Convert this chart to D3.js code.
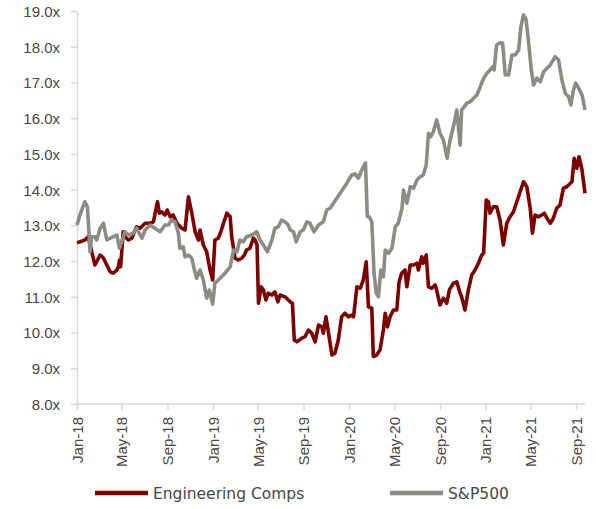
<!DOCTYPE html>
<html>
<head>
<meta charset="utf-8">
<script src="https://cdn.jsdelivr.net/npm/d3@7"></script>
<style>
  body { margin: 0; background: #fff; }
  svg { display: block; font-family: "DejaVu Sans", sans-serif; }
  .axis path, .axis line { stroke: #d9d9d9; stroke-width: 1.5; }
  .axis text { fill: #474747; font-size: 15px; }
  .legend text { fill: #474747; font-size: 15.5px; }
</style>
</head>
<body>
<svg id="chart" width="596" height="509"></svg>
<script>
// Engineering Comps (P/E multiple)
const engDates = ["2018-01-01","2018-01-22","2018-01-31","2018-02-18","2018-03-04","2018-03-12","2018-03-31","2018-04-08","2018-04-18","2018-04-22","2018-04-25","2018-04-28","2018-05-05","2018-05-10","2018-05-19","2018-05-28","2018-06-06","2018-06-10","2018-06-19","2018-07-03","2018-07-16","2018-07-25","2018-08-05","2018-08-10","2018-08-16","2018-08-25","2018-08-31","2018-09-08","2018-09-16","2018-09-26","2018-10-09","2018-10-18","2018-10-27","2018-11-05","2018-11-14","2018-11-23","2018-11-27","2018-12-06","2018-12-15","2018-12-24","2018-12-31","2019-01-06","2019-01-15","2019-01-22","2019-01-29","2019-02-07","2019-02-16","2019-02-20","2019-03-01","2019-03-10","2019-03-19","2019-03-26","2019-04-01","2019-04-10","2019-04-19","2019-04-24","2019-04-29","2019-05-03","2019-05-10","2019-05-16","2019-05-23","2019-05-29","2019-06-08","2019-06-16","2019-06-24","2019-06-30","2019-07-13","2019-07-27","2019-08-02","2019-08-07","2019-08-14","2019-08-27","2019-09-05","2019-09-14","2019-09-23","2019-10-02","2019-10-11","2019-10-20","2019-10-24","2019-10-31","2019-11-07","2019-11-16","2019-11-24","2019-12-03","2019-12-12","2019-12-21","2019-12-30","2020-01-08","2020-01-13","2020-01-22","2020-01-31","2020-02-08","2020-02-16","2020-02-22","2020-03-02","2020-03-06","2020-03-15","2020-03-24","2020-04-02","2020-04-07","2020-04-13","2020-04-20","2020-04-29","2020-05-08","2020-05-14","2020-05-21","2020-05-30","2020-06-04","2020-06-13","2020-06-22","2020-07-01","2020-07-05","2020-07-14","2020-07-18","2020-07-26","2020-08-01","2020-08-10","2020-08-19","2020-08-23","2020-09-01","2020-09-10","2020-09-19","2020-09-26","2020-10-07","2020-10-16","2020-10-25","2020-10-29","2020-11-07","2020-11-16","2020-11-25","2020-12-04","2020-12-13","2020-12-22","2020-12-27","2021-01-03","2021-01-09","2021-01-13","2021-01-22","2021-01-31","2021-02-09","2021-02-18","2021-02-27","2021-03-08","2021-03-17","2021-03-26","2021-04-04","2021-04-13","2021-04-22","2021-05-01","2021-05-07","2021-05-14","2021-05-23","2021-06-01","2021-06-08","2021-06-15","2021-06-24","2021-07-02","2021-07-11","2021-07-20","2021-07-29","2021-08-07","2021-08-21","2021-08-27","2021-09-03","2021-09-09","2021-09-17","2021-09-25"];
const engValues = [12.51,12.59,12.68,11.89,12.17,12.10,11.70,11.66,11.75,11.84,12.03,11.84,12.82,12.68,12.59,12.64,12.87,12.96,12.92,13.06,13.06,13.10,13.66,13.34,13.38,13.29,13.43,13.24,13.29,13.06,12.92,12.87,13.80,13.34,12.82,12.59,12.87,12.45,12.26,11.75,11.47,12.59,12.64,12.82,13.06,13.34,13.24,12.68,12.08,12.03,12.08,12.17,12.31,12.36,12.64,12.59,12.45,10.82,11.28,11.19,10.91,11.10,11.05,11.14,10.86,11.05,11.00,10.86,10.82,9.79,9.74,9.84,9.89,10.07,9.98,9.74,10.21,10.16,9.98,10.44,9.98,9.37,9.42,9.79,10.44,10.54,10.44,10.49,10.44,11.28,11.24,11.47,11.98,10.72,10.68,9.33,9.37,9.51,10.07,10.54,10.16,10.44,10.63,10.63,11.40,11.66,11.75,11.28,11.89,11.89,11.94,11.75,12.12,11.94,12.17,11.28,11.24,11.33,11.19,10.77,10.96,10.82,11.19,11.38,11.42,11.10,11.00,10.63,11.19,11.61,11.75,11.94,12.17,12.22,13.71,13.66,13.34,13.52,13.52,13.15,12.45,13.06,13.24,13.38,13.66,13.94,14.22,14.08,13.48,12.78,13.29,13.24,13.29,13.34,13.20,13.06,13.20,13.48,13.57,14.04,14.08,14.22,14.88,14.60,14.92,14.55,13.90];

// S&P500 (P/E multiple)
const spxDates = ["2018-01-01","2018-01-09","2018-01-22","2018-01-29","2018-02-05","2018-02-09","2018-02-18","2018-02-23","2018-03-04","2018-03-13","2018-03-22","2018-03-31","2018-04-08","2018-04-18","2018-04-25","2018-05-01","2018-05-10","2018-05-19","2018-06-01","2018-06-10","2018-06-24","2018-07-03","2018-07-16","2018-07-29","2018-08-12","2018-08-25","2018-09-03","2018-09-12","2018-09-21","2018-09-30","2018-10-04","2018-10-13","2018-10-18","2018-10-27","2018-11-05","2018-11-11","2018-11-18","2018-11-27","2018-12-06","2018-12-15","2018-12-22","2018-12-31","2019-01-06","2019-01-20","2019-02-02","2019-02-16","2019-02-25","2019-03-06","2019-03-14","2019-03-23","2019-04-01","2019-04-15","2019-04-28","2019-05-07","2019-05-16","2019-05-27","2019-06-08","2019-06-16","2019-06-25","2019-07-04","2019-07-13","2019-07-22","2019-07-27","2019-08-05","2019-08-12","2019-08-23","2019-08-31","2019-09-10","2019-09-18","2019-09-29","2019-10-11","2019-10-24","2019-11-02","2019-11-11","2019-11-20","2019-11-29","2019-12-08","2019-12-17","2019-12-26","2020-01-08","2020-01-17","2020-01-26","2020-02-04","2020-02-14","2020-02-19","2020-02-24","2020-03-02","2020-03-08","2020-03-14","2020-03-20","2020-03-26","2020-04-02","2020-04-07","2020-04-16","2020-04-25","2020-05-04","2020-05-12","2020-05-22","2020-05-26","2020-06-04","2020-06-13","2020-06-22","2020-07-01","2020-07-10","2020-07-18","2020-07-26","2020-08-01","2020-08-07","2020-08-14","2020-08-23","2020-09-01","2020-09-10","2020-09-20","2020-09-28","2020-10-07","2020-10-16","2020-10-25","2020-10-29","2020-11-05","2020-11-12","2020-11-21","2020-11-30","2020-12-09","2020-12-18","2020-12-27","2021-01-05","2021-01-13","2021-01-21","2021-01-24","2021-01-31","2021-02-09","2021-02-16","2021-02-23","2021-03-04","2021-03-13","2021-03-22","2021-03-31","2021-04-06","2021-04-13","2021-04-20","2021-04-26","2021-05-04","2021-05-10","2021-05-19","2021-05-28","2021-06-06","2021-06-15","2021-06-24","2021-07-07","2021-07-16","2021-07-25","2021-08-03","2021-08-12","2021-08-18","2021-08-25","2021-08-31","2021-09-08","2021-09-17","2021-09-25"];
const spxValues = [13.01,13.29,13.66,13.52,12.26,12.68,12.68,12.59,12.92,13.06,12.59,12.64,12.68,12.73,12.36,12.54,12.82,12.73,12.78,12.92,12.64,12.87,13.01,12.92,12.82,13.01,13.01,13.15,13.10,12.78,12.36,12.40,12.12,12.17,12.08,11.80,11.52,11.75,11.47,10.96,11.19,10.80,11.38,11.52,11.66,11.84,12.31,12.26,12.59,12.54,12.68,12.73,12.82,12.59,12.45,12.26,12.59,12.92,12.96,13.15,13.10,13.01,12.87,12.82,12.54,12.82,12.87,13.10,13.06,12.82,13.01,13.10,13.43,13.48,13.62,13.76,13.90,14.04,14.18,14.41,14.44,14.32,14.55,14.75,13.24,13.24,13.10,11.66,11.10,11.00,11.75,11.56,12.31,12.22,12.36,12.96,13.06,13.48,13.99,13.62,14.08,14.04,14.27,14.36,14.41,14.69,15.58,15.48,15.62,15.95,15.58,15.39,14.88,15.39,15.76,16.23,15.25,16.23,16.32,16.42,16.46,16.56,16.65,16.88,17.12,17.26,17.35,17.44,17.35,18.05,18.11,18.10,17.21,17.21,17.77,17.77,17.91,18.56,18.89,18.75,18.19,17.35,16.93,17.12,17.02,17.30,17.40,17.49,17.72,17.63,17.07,16.70,16.60,16.37,16.79,16.98,16.84,16.65,16.23];

const tickDates = ["2018-01-01","2018-05-01","2018-09-01","2019-01-01","2019-05-01","2019-09-01","2020-01-01","2020-05-01","2020-09-01","2021-01-01","2021-05-01","2021-09-01"];
const yTicks = [8,9,10,11,12,13,14,15,16,17,18,19];
const seriesNames = ["Engineering Comps", "S&P500"];
const seriesColors = ["#7d0000", "#8c8c84"];

const parse = d3.timeParse("%Y-%m-%d");
const svg = d3.select("#chart");

const plotLeft = 77, plotRight = 585, plotTop = 11, plotBottom = 404;

const x = d3.scaleTime()
  .domain([parse("2018-01-01"), parse("2021-09-25")])
  .range([plotLeft, plotRight]);
const y = d3.scaleLinear().domain([8, 19]).range([plotBottom, plotTop]);

// y axis
svg.append("g")
  .attr("class", "axis")
  .attr("transform", `translate(${plotLeft},0)`)
  .call(d3.axisLeft(y).tickValues(yTicks).tickSize(6).tickPadding(11)
    .tickFormat(d => d3.format(".1f")(d) + "x").tickSizeOuter(0))
  .selectAll("text").attr("dy", "0.36em");

// x axis
const xAxis = svg.append("g")
  .attr("class", "axis")
  .attr("transform", `translate(0,${plotBottom})`)
  .call(d3.axisBottom(x).tickValues(tickDates.map(parse)).tickSize(6)
    .tickFormat(d3.timeFormat("%b-%y")).tickSizeOuter(0));
xAxis.select(".domain").attr("d", `M${plotLeft},0H${plotRight}`);
xAxis.selectAll("text")
  .attr("transform", "rotate(-90)")
  .attr("text-anchor", "end")
  .attr("x", -13)
  .attr("y", 0)
  .attr("dy", "0.35em");

// lines
const line = d3.line()
  .x(d => x(d[0]))
  .y(d => y(d[1]));

const series = [
  d3.zip(engDates.map(parse), engValues),
  d3.zip(spxDates.map(parse), spxValues)
];

series.forEach((s, i) => {
  svg.append("path")
    .datum(s)
    .attr("fill", "none")
    .attr("stroke", seriesColors[i])
    .attr("stroke-width", 3.6)
    .attr("stroke-linejoin", "round")
    .attr("d", line);
});

// legend
const legendX = [95, 390];
const legend = svg.append("g").attr("class", "legend");
seriesNames.forEach((name, i) => {
  legend.append("line")
    .attr("x1", legendX[i]).attr("x2", legendX[i] + 53)
    .attr("y1", 493).attr("y2", 493)
    .attr("stroke", seriesColors[i])
    .attr("stroke-width", 4.5);
  legend.append("text")
    .attr("x", legendX[i] + 58)
    .attr("y", 499)
    .text(name);
});
</script>
</body>
</html>
